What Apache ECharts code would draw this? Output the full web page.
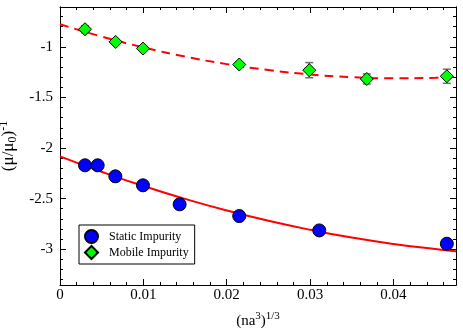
<!DOCTYPE html>
<html>
<head>
<meta charset="utf-8">
<script src="https://cdn.jsdelivr.net/npm/echarts@6/dist/echarts.min.js"></script>
<style>
  html, body { margin: 0; padding: 0; background: #fff; }
  #chart { width: 463px; height: 331px; }
</style>
</head>
<body>
<div id="chart"></div>
<script>
// static impurity points
const staticX = [0.0030, 0.00452, 0.00664, 0.00995, 0.01435, 0.0215, 0.0311, 0.0464];
const staticY = [-2.171, -2.171, -2.28, -2.369, -2.557, -2.673, -2.815, -2.947];

// mobile impurity points + error bars
const mobileX = [0.0030, 0.00667, 0.00995, 0.0215, 0.0299, 0.0368, 0.0464];
const mobileY = [-0.825, -0.95, -1.016, -1.174, -1.23, -1.317, -1.29];
const mobileErr = [0.035, 0.02, 0.02, 0.025, 0.075, 0.05, 0.07];

// fitted curves
const fitX = [0, 0.005, 0.01, 0.015, 0.02, 0.025, 0.03, 0.035, 0.04, 0.045, 0.0475];
const staticFitY = [-2.082, -2.235, -2.376, -2.503, -2.618, -2.720, -2.809, -2.886, -2.949, -2.999, -3.02];
const mobileFitY = [-0.775, -0.898, -1.004, -1.095, -1.17, -1.229, -1.272, -1.299, -1.31, -1.306, -1.296];

const yMajorTicks = [-3, -2.5, -2, -1.5, -1];
const yMinorTicks = [-3.3, -3.2, -3.1, -2.9, -2.8, -2.7, -2.6, -2.4, -2.3, -2.2, -2.1,
  -1.9, -1.8, -1.7, -1.6, -1.4, -1.3, -1.2, -1.1, -0.9, -0.8, -0.7];

const font = 'Liberation Serif';
const zip = (xs, ys) => xs.map((x, i) => [x, ys[i]]);

const chart = echarts.init(document.getElementById('chart'));

const xBase = {
  type: 'value', min: 0, max: 0.0475, interval: 0.01,
  axisLine: { show: true, lineStyle: { color: '#000', width: 1 } },
  axisTick: { show: true, inside: true, length: 6, lineStyle: { color: '#000' } },
  minorTick: { show: true, splitNumber: 5, length: 3, lineStyle: { color: '#000' } },
  splitLine: { show: false }
};
const yBase = (pos, vals, len, labels) => ({
  type: 'value', min: -3.355, max: -0.605, position: pos,
  axisLine: { show: true, lineStyle: { color: '#000', width: 1 } },
  axisTick: { show: true, inside: true, length: len, customValues: vals, lineStyle: { color: '#000' } },
  axisLabel: labels ? { show: true, customValues: vals, margin: 7, color: '#000', fontFamily: font, fontSize: 15 } : { show: false },
  splitLine: { show: false }
});

const option = {
  animation: false,
  grid: { left: 60, right: 7, top: 7, bottom: 46, outerBoundsMode: 'none', containLabel: false },
  legend: {
    left: 79, top: 225, orient: 'vertical',
    data: ['Static Impurity', 'Mobile Impurity'],
    itemWidth: 13, itemHeight: 13, itemGap: 1, symbolKeepAspect: true,
    padding: [4, 6, 4, 5],
    borderColor: '#000', borderWidth: 1, backgroundColor: '#fff',
    textStyle: { fontFamily: font, fontSize: 12, color: '#000', lineHeight: 13, padding: [0, 0, 0, 6] }
  },
  xAxis: [
    Object.assign({}, xBase, {
      position: 'bottom',
      axisLabel: { margin: 3, color: '#000', fontFamily: font, fontSize: 15, showMaxLabel: false },
      name: '(na{sup|3}){sup|1/3}', nameLocation: 'middle', nameGap: 26,
      nameTextStyle: {
        fontFamily: font, fontSize: 15, color: '#000',
        rich: { sup: { fontFamily: font, fontSize: 11, color: '#000', padding: [0, 0, 10, 0] } }
      }
    }),
    Object.assign({}, xBase, { position: 'top', axisLabel: { show: false } })
  ],
  yAxis: [
    Object.assign(yBase('left', yMajorTicks, 6, true), {
      name: '(μ/μ{sub|0}){sup|-1}', nameLocation: 'middle', nameGap: 37, nameRotate: 90,
      nameTextStyle: {
        fontFamily: font, fontSize: 17, color: '#000',
        rich: {
          sub: { fontFamily: font, fontSize: 12, color: '#000', padding: [7, 0, 0, 0] },
          sup: { fontFamily: font, fontSize: 12, color: '#000', padding: [0, 0, 11, 0] }
        }
      }
    }),
    yBase('left', yMinorTicks, 3, false),
    yBase('right', yMajorTicks, 6, false),
    yBase('right', yMinorTicks, 3, false)
  ],
  series: [
    {
      name: 'static fit', type: 'line', smooth: true, symbol: 'none', z: 1,
      data: zip(fitX, staticFitY), lineStyle: { color: '#ff0000', width: 2 }
    },
    {
      name: 'mobile fit', type: 'line', smooth: true, symbol: 'none', z: 1,
      data: zip(fitX, mobileFitY), lineStyle: { color: '#ff0000', width: 2, type: [9, 6] }
    },
    {
      name: 'errors', type: 'custom', z: 2,
      data: mobileX.map((x, i) => [x, mobileY[i], mobileErr[i]]),
      renderItem: (params, api) => {
        const top = api.coord([api.value(0), api.value(1) + api.value(2)]);
        const bot = api.coord([api.value(0), api.value(1) - api.value(2)]);
        const w = 4;
        const style = { stroke: '#707070', lineWidth: 1.5 };
        return {
          type: 'group',
          children: [
            { type: 'line', shape: { x1: top[0], y1: top[1], x2: bot[0], y2: bot[1] }, style },
            { type: 'line', shape: { x1: top[0] - w, y1: top[1], x2: top[0] + w, y2: top[1] }, style },
            { type: 'line', shape: { x1: bot[0] - w, y1: bot[1], x2: bot[0] + w, y2: bot[1] }, style }
          ]
        };
      }
    },
    {
      name: 'Static Impurity', type: 'scatter', symbol: 'circle', symbolSize: 13, z: 3,
      data: zip(staticX, staticY),
      itemStyle: { color: '#0000ff', borderColor: '#000', borderWidth: 1, opacity: 1 }
    },
    {
      name: 'Mobile Impurity', type: 'scatter', symbol: 'diamond', symbolSize: 13, z: 3,
      data: zip(mobileX, mobileY),
      itemStyle: { color: '#00ff00', borderColor: '#000', borderWidth: 1, opacity: 1 }
    }
  ]
};

chart.setOption(option);
</script>
</body>
</html>
